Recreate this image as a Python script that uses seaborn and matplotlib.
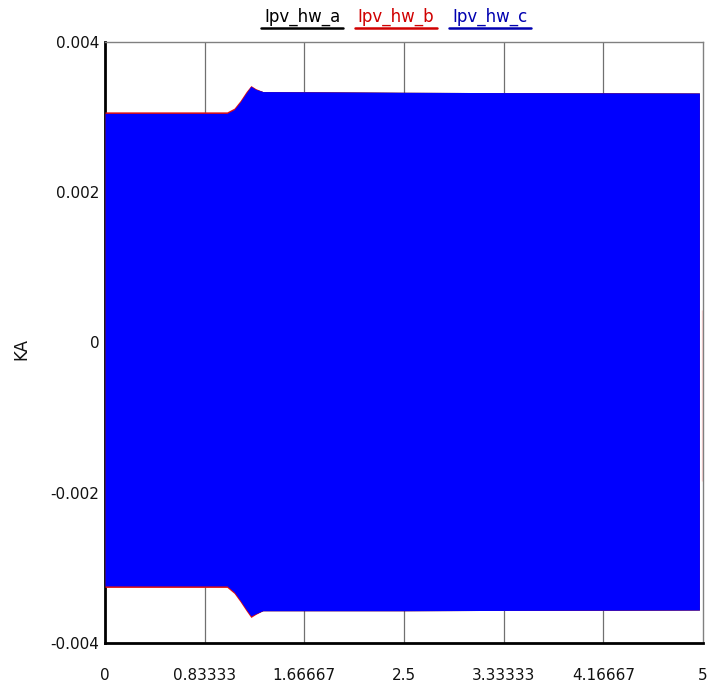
import matplotlib
matplotlib.use("Agg")
import matplotlib.pyplot as plt
import seaborn as sns
import numpy as np
import pandas as pd

# ---- data (envelopes of the fast three-phase currents) ----
t_env = [0.0, 1.02, 1.08, 1.13, 1.18, 1.22, 1.26, 1.32, 2.5, 4.97]
upper_c = [0.00305, 0.00305, 0.00310, 0.00320, 0.00332, 0.00341, 0.00337, 0.00334, 0.00333, 0.00332]
lower_c = [-0.00324, -0.00324, -0.00332, -0.00343, -0.00355, -0.00364, -0.00361, -0.00357, -0.00357, -0.00356]
upper_b = [0.00307, 0.00307, 0.00312, 0.00322, 0.00334, 0.00342, 0.00338, 0.00334, 0.00333, 0.00332]
lower_b = [-0.00326, -0.00326, -0.00334, -0.00345, -0.00357, -0.00366, -0.00362, -0.00357, -0.00357, -0.00356]
# last instant of phase b visible at the right edge
t_last = [4.995, 4.995]
b_last = [0.00043, -0.00184]

series_names = ["Ipv_hw_a", "Ipv_hw_b", "Ipv_hw_c"]
series_colors = ["#000000", "#d00000", "#0000b0"]
x_ticks = [0, 0.83333, 1.66667, 2.5, 3.33333, 4.16667, 5]
x_tick_labels = ["0", "0.83333", "1.66667", "2.5", "3.33333", "4.16667", "5"]
y_ticks = [-0.004, -0.002, 0, 0.002, 0.004]
y_tick_labels = ["-0.004", "-0.002", "0", "0.002", "0.004"]

sns.set_style("white")
plt.rcParams["font.family"] = ["DejaVu Sans"]

fig = plt.figure(figsize=(7.07, 6.89), dpi=100)
ax = fig.add_axes([105 / 707, 1 - 643 / 689, (703 - 105) / 707, (643 - 42) / 689])

df = pd.DataFrame({"t": t_env, "ub": upper_b, "lb": lower_b, "uc": upper_c, "lc": lower_c})

# phase a lies underneath (same envelope as c)
ax.fill_between(df["t"], df["lc"], df["uc"], color="#000000", linewidth=0, zorder=2)
# phase b slightly wider -> thin red rim
ax.fill_between(df["t"], df["lb"], df["ub"], color="#e01010", linewidth=0, zorder=3)
# phase c on top
ax.fill_between(df["t"], df["lc"], df["uc"], color="#0000ff", linewidth=0, zorder=4)
sns.lineplot(x=t_last, y=b_last, ax=ax, color="#ff3030", linewidth=2.0, zorder=6)

ax.set_xlim(0, 5)
ax.set_ylim(-0.004, 0.004)
ax.set_xticks(x_ticks)
ax.set_xticklabels(x_tick_labels, fontsize=11)
ax.set_yticks(y_ticks)
ax.set_yticklabels(y_tick_labels, fontsize=11)
ax.tick_params(axis="x", length=0, pad=18, colors="#111111")
ax.tick_params(axis="y", length=0, pad=4, colors="#111111")

for xv in x_ticks[1:-1]:
    ax.axvline(xv, color="#707070", linewidth=0.9, zorder=1)

for side in ["left", "bottom"]:
    ax.spines[side].set_color("#000000")
    ax.spines[side].set_linewidth(2.0)
for side in ["top", "right"]:
    ax.spines[side].set_color("#808080")
    ax.spines[side].set_linewidth(1.0)
    ax.spines[side].set_visible(True)

ax.set_xlabel("")
ax.set_ylabel("")
fig.text(21 / 707, 1 - 349 / 689, "KA", fontsize=12, color="#111111",
         rotation=90, ha="center", va="center")

# legend-like title (underlined names)
x_centers_px = [302, 396, 490]
for name, col, xc in zip(series_names, series_colors, x_centers_px):
    xp = xc / 707
    fig.text(xp, 1 - 17 / 689, name, color=col, fontsize=12, ha="center", va="center")
    fig.add_artist(plt.Line2D([xp - 41 / 707, xp + 41 / 707], [1 - 28 / 689, 1 - 28 / 689],
                              color=col, linewidth=1.8, transform=fig.transFigure))

fig.savefig("out.png", dpi=100)
